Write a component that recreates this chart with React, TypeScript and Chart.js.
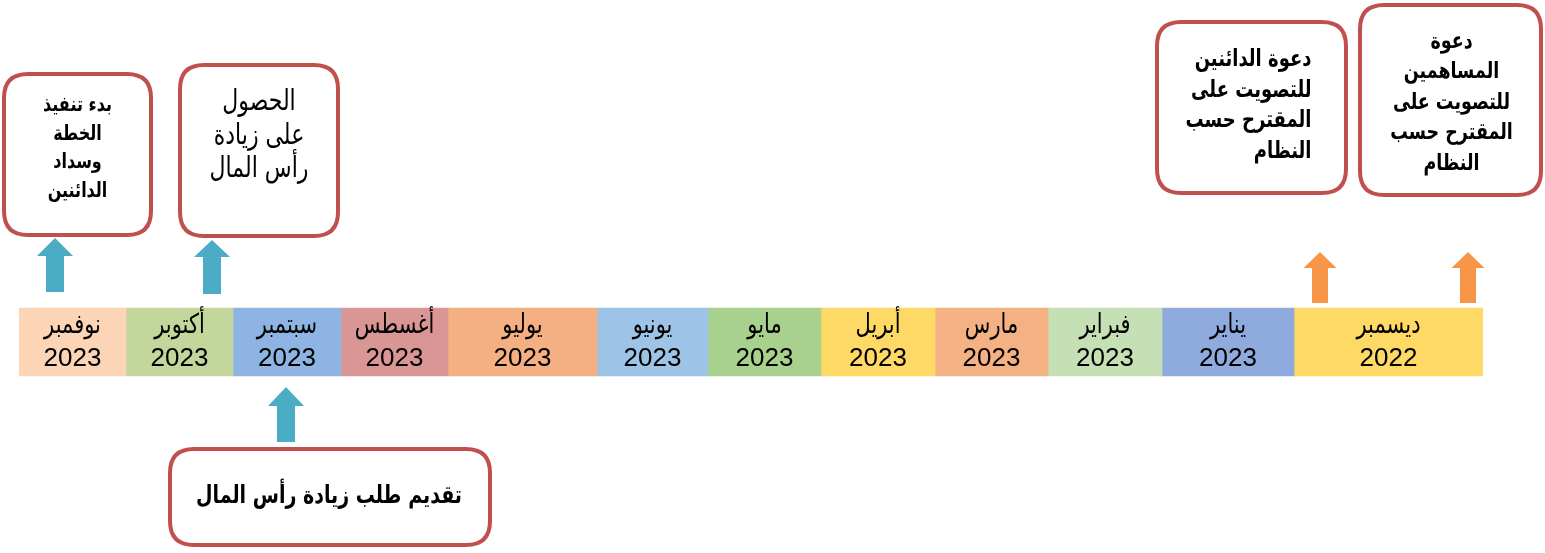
import React, { useEffect, useRef } from "react";
import { Chart, registerables } from "chart.js";

Chart.register(...registerables);

// ---- data ----
const months = ["نوفمبر", "أكتوبر", "سبتمبر", "أغسطس", "يوليو", "يونيو", "مايو", "أبريل", "مارس", "فبراير", "يناير", "ديسمبر"];
const years = ["2023", "2023", "2023", "2023", "2023", "2023", "2023", "2023", "2023", "2023", "2023", "2022"];
// span of each month segment along the timeline (arbitrary units)
const spans = [107, 107, 108, 107, 149, 111, 113, 114, 113, 114, 132, 189];
const segColors = ["#FBD5B5", "#C3D69B", "#8EB4E3", "#D99694", "#F4B083", "#9DC3E6", "#A9D18E", "#FFD966", "#F4B183", "#C5E0B4", "#8FAADC", "#FFD966"];

// milestone callouts (positions along timeline in the same units)
const noteTexts = [
  ["بدء تنفيذ", "الخطة", "وسداد", "الدائنين"],
  ["الحصول", "على زيادة", "رأس المال"],
  ["دعوة الدائنين", "للتصويت على", "المقترح حسب", "النظام"],
  ["دعوة", "المساهمين", "للتصويت على", "المقترح حسب", "النظام"],
  ["تقديم طلب زيادة رأس المال"],
];
const noteAt = [58.5, 240, 1232.5, 1431.5, 311];
const arrowAt = [36, 193, 267, 1301, 1449];

const FONT = "'DejaVu Sans', 'Liberation Sans', Arial, sans-serif";
const NUMFONT = "'Liberation Sans', Arial, sans-serif";
const STRETCH = 1.3;

const boxStyle = [
  { w: 151, top: 72, h: 165, font: "bold 16px " + FONT, lh: 28.5, y0: 106, align: "center", dx: 0 },
  { w: 162, top: 63, h: 175, font: "22px " + FONT, lh: 33.5, y0: 103, align: "center", dx: 0 },
  { w: 193, top: 20, h: 175, font: "bold 18px " + FONT, lh: 30.5, y0: 60, align: "right", dx: 60 },
  { w: 185, top: 3, h: 194, font: "bold 17.5px " + FONT, lh: 30.5, y0: 42, align: "center", dx: 1 },
  { w: 324, top: 447, h: 100, font: "bold 19px " + FONT, lh: 30, y0: 497, align: "center", dx: -1 },
];
const arrowStyle = [
  { color: "#4BACC6", top: 238, bottom: 292, head: 18, hw: 36, sw: 18 },
  { color: "#4BACC6", top: 240, bottom: 294, head: 17, hw: 36, sw: 18 },
  { color: "#4BACC6", top: 387, bottom: 442, head: 19, hw: 36, sw: 18 },
  { color: "#F79646", top: 252, bottom: 303, head: 16, hw: 33, sw: 16 },
  { color: "#F79646", top: 252, bottom: 303, head: 16, hw: 33, sw: 16 },
];

function roundRect(ctx: CanvasRenderingContext2D, x: number, y: number, w: number, h: number, r: number) {
  ctx.beginPath();
  ctx.moveTo(x + r, y);
  ctx.lineTo(x + w - r, y);
  ctx.quadraticCurveTo(x + w, y, x + w, y + r);
  ctx.lineTo(x + w, y + h - r);
  ctx.quadraticCurveTo(x + w, y + h, x + w - r, y + h);
  ctx.lineTo(x + r, y + h);
  ctx.quadraticCurveTo(x, y + h, x, y + h - r);
  ctx.lineTo(x, y + r);
  ctx.quadraticCurveTo(x, y, x + r, y);
  ctx.closePath();
}

function arabicText(ctx: CanvasRenderingContext2D, text: string, x: number, y: number) {
  ctx.save();
  ctx.translate(x, y);
  ctx.scale(1, STRETCH);
  ctx.fillText(text, 0, 0);
  ctx.restore();
}

const timelinePlugin = {
  id: "timelineDecor",
  afterDatasetsDraw(chart: any) {
    const ctx: CanvasRenderingContext2D = chart.ctx;
    const xs = chart.scales.x;
    const meta0 = chart.getDatasetMeta(0);
    const barTop = meta0.data[0].y - 34;
    ctx.save();
    // month labels
    chart.data.datasets.forEach((ds: any, i: number) => {
      const [a, b] = ds.data[0];
      const cx = (xs.getPixelForValue(a) + xs.getPixelForValue(b)) / 2;
      ctx.fillStyle = "#000";
      ctx.textAlign = "center";
      ctx.textBaseline = "middle";
      ctx.direction = "rtl";
      ctx.font = "21px " + FONT;
      arabicText(ctx, months[i], cx, barTop + 18);
      ctx.direction = "ltr";
      ctx.font = "26px " + NUMFONT;
      ctx.fillText(years[i], cx, barTop + 51);
    });
    // arrows
    arrowAt.forEach((v, i) => {
      const s = arrowStyle[i];
      const cx = xs.getPixelForValue(v);
      ctx.fillStyle = s.color;
      ctx.beginPath();
      ctx.moveTo(cx, s.top);
      ctx.lineTo(cx + s.hw / 2, s.top + s.head);
      ctx.lineTo(cx + s.sw / 2, s.top + s.head);
      ctx.lineTo(cx + s.sw / 2, s.bottom);
      ctx.lineTo(cx - s.sw / 2, s.bottom);
      ctx.lineTo(cx - s.sw / 2, s.top + s.head);
      ctx.lineTo(cx - s.hw / 2, s.top + s.head);
      ctx.closePath();
      ctx.fill();
    });
    // callout boxes
    noteAt.forEach((v, i) => {
      const s = boxStyle[i];
      const cx = xs.getPixelForValue(v);
      const x = cx - s.w / 2;
      ctx.lineWidth = 4;
      ctx.strokeStyle = "#C0504D";
      ctx.fillStyle = "#FFFFFF";
      roundRect(ctx, x + 2, s.top + 2, s.w - 4, s.h - 4, 24);
      ctx.fill();
      ctx.stroke();
      ctx.fillStyle = "#000";
      ctx.font = s.font;
      ctx.direction = "rtl";
      ctx.textBaseline = "middle";
      ctx.textAlign = s.align as CanvasTextAlign;
      noteTexts[i].forEach((line, j) => {
        arabicText(ctx, line, cx + s.dx, s.y0 + j * s.lh);
      });
    });
    ctx.restore();
  },
};

export default function App() {
  const ref = useRef<HTMLCanvasElement | null>(null);
  useEffect(() => {
    document.body.style.margin = "0";
    const starts: number[] = [];
    let acc = 0;
    spans.forEach((s) => {
      starts.push(acc);
      acc += s;
    });
    const total = acc;
    const chart = new Chart(ref.current as HTMLCanvasElement, {
      type: "bar",
      data: {
        labels: ["timeline"],
        datasets: months.map((m, i) => ({
          label: m + " " + years[i],
          data: [[starts[i], starts[i] + spans[i]]] as any,
          backgroundColor: segColors[i],
          borderWidth: 0,
          borderSkipped: false,
          grouped: false,
          barThickness: 68,
        })),
      },
      options: {
        indexAxis: "y",
        responsive: false,
        animation: false,
        layout: { padding: { left: 19, right: 62, top: 131, bottom: 0 } },
        plugins: { legend: { display: false }, tooltip: { enabled: false }, title: { display: false } },
        scales: {
          x: { type: "linear", min: 0, max: total, display: false },
          y: { display: false },
        },
      },
      plugins: [timelinePlugin],
    });
    return () => chart.destroy();
  }, []);
  return (
    <div style={{ width: 1545, height: 553 }}>
      <canvas ref={ref} width={1545} height={553} style={{ display: "block" }} />
    </div>
  );
}
